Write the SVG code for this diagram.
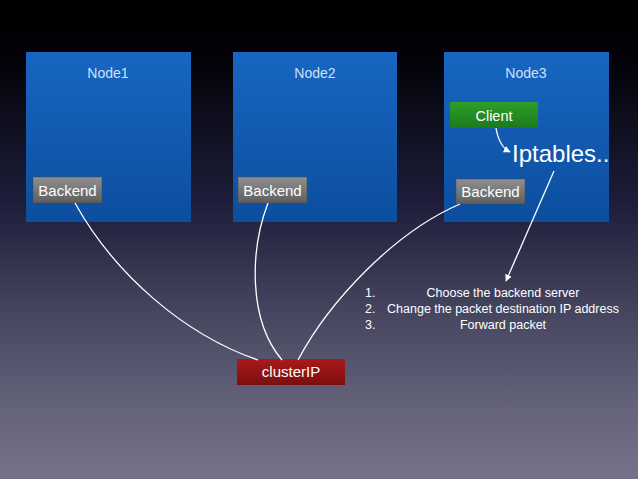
<svg xmlns="http://www.w3.org/2000/svg" width="638" height="479" viewBox="0 0 638 479">
<defs>
<linearGradient id="bg" x1="0" y1="0" x2="0" y2="1">
<stop offset="0" stop-color="#000000"/>
<stop offset="0.12" stop-color="#020208"/>
<stop offset="0.42" stop-color="#1d1d3a"/>
<stop offset="0.65" stop-color="#45455f"/>
<stop offset="0.85" stop-color="#64637a"/>
<stop offset="1" stop-color="#75738a"/>
</linearGradient>
<linearGradient id="nodeg" x1="0" y1="0" x2="0" y2="1">
<stop offset="0" stop-color="#1766c2"/>
<stop offset="1" stop-color="#0c4e9e"/>
</linearGradient>
<linearGradient id="grayg" x1="0" y1="0" x2="0" y2="1">
<stop offset="0" stop-color="#909090"/>
<stop offset="1" stop-color="#5e5e5e"/>
</linearGradient>
<linearGradient id="greeng" x1="0" y1="0" x2="0" y2="1">
<stop offset="0" stop-color="#2e9e2a"/>
<stop offset="1" stop-color="#1c7a1a"/>
</linearGradient>
<linearGradient id="redg" x1="0" y1="0" x2="0" y2="1">
<stop offset="0" stop-color="#a81a1a"/>
<stop offset="1" stop-color="#7c0e0e"/>
</linearGradient>
<marker id="arr" viewBox="0 0 10 10" refX="9" refY="5" markerWidth="7" markerHeight="7" markerUnits="userSpaceOnUse" orient="auto">
<path d="M0,0 L10,5 L0,10 z" fill="#ffffff"/>
</marker>
</defs>
<style>
.node{fill:url(#nodeg)}
.nlabel{font-family:"Liberation Sans",Arial,sans-serif;font-size:14px;fill:#cfe0f7;text-anchor:middle}
.btxt{font-family:"Liberation Sans",Arial,sans-serif;font-size:15px;fill:#ffffff;text-anchor:middle}
.gray{fill:url(#grayg);stroke:#4a4a4a;stroke-width:0.5}
.conn{fill:none;stroke:#ffffff;stroke-width:1.3}
.list{font-family:"Liberation Sans",Arial,sans-serif;font-size:12.5px;fill:#ffffff}
</style>
<rect x="0" y="0" width="638" height="479" fill="url(#bg)"/>

<g id="node1">
<rect class="node" x="26" y="52" width="165" height="170"/>
<text class="nlabel" x="108" y="78">Node1</text>
</g>
<g id="node2">
<rect class="node" x="233" y="52" width="164" height="170"/>
<text class="nlabel" x="315" y="78">Node2</text>
</g>
<g id="node3">
<rect class="node" x="444" y="52" width="165" height="170"/>
<text class="nlabel" x="526" y="78">Node3</text>
</g>

<g id="backend1">
<rect class="gray" x="33" y="177" width="69" height="26"/>
<text class="btxt" x="67.5" y="196">Backend</text>
</g>
<g id="backend2">
<rect class="gray" x="238" y="177" width="69" height="26"/>
<text class="btxt" x="272.5" y="196">Backend</text>
</g>
<g id="backend3">
<rect class="gray" x="456" y="179" width="69" height="25"/>
<text class="btxt" x="490.5" y="197">Backend</text>
</g>
<g id="client">
<rect x="450" y="102" width="88" height="26" fill="url(#greeng)"/>
<text class="btxt" x="494" y="121" style="font-size:14.5px">Client</text>
</g>
<g id="iptables">
<text x="512" y="162" font-family="'Liberation Sans',Arial,sans-serif" font-size="24" fill="#ffffff">Iptables..</text>
</g>
<g id="clusterip">
<rect x="237" y="359" width="108" height="26" fill="url(#redg)"/>
<text class="btxt" x="291" y="377">clusterIP</text>
</g>

<g id="steps" class="list">
<text x="365" y="297">1.</text>
<text x="503" y="297" text-anchor="middle">Choose the backend server</text>
<text x="365" y="313">2.</text>
<text x="503" y="313" text-anchor="middle">Change the packet destination IP address</text>
<text x="365" y="329">3.</text>
<text x="503" y="329" text-anchor="middle">Forward packet</text>
</g>

<g id="connectors">
<path class="conn" d="M75,203 C115,275 185,335 258,360"/>
<path class="conn" d="M268,203 C250,250 248,320 282,360"/>
<path class="conn" d="M460,204 C395,232 330,300 298,360"/>
<path class="conn" d="M554,171 L506,281" marker-end="url(#arr)"/>
<path class="conn" d="M496,128 C498,140 502,148 510,152" marker-end="url(#arr)"/>
</g>
</svg>
